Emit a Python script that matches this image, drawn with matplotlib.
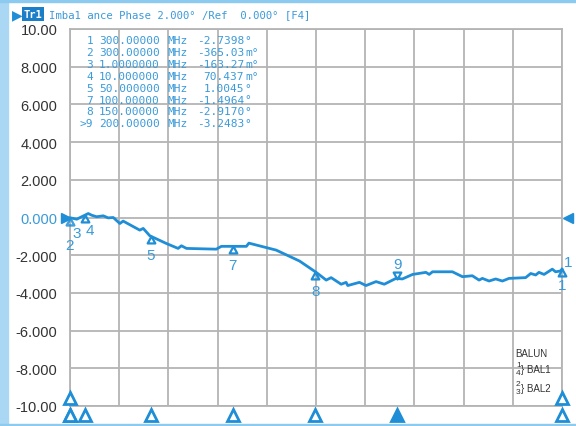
import matplotlib
matplotlib.use('Agg')
import matplotlib.pyplot as plt
import matplotlib.patches as mpatches
from matplotlib.path import Path
import numpy as np

# trace: balance phase imbalance (deg) vs frequency (MHz)
freq_mhz = [1.0, 1.4, 5.1, 8.1, 12.1, 14.2, 17.2, 21.2, 24.2, 27.3, 31.3, 33.3,
            43.4, 45.5, 49.5, 59.6, 66.7, 68.7, 71.8, 89.9, 93.0, 108.2, 109.7,
            126.3, 140.5, 150.6, 156.7, 159.7, 165.8, 168.8, 169.8, 176.9, 180.9,
            187.0, 192.0, 199.1, 203.0, 209.2, 217.3, 219.3, 221.3, 233.4, 239.5,
            245.5, 249.6, 251.6, 255.7, 259.7, 263.8, 267.8, 277.9, 281.0, 284.0,
            286.0, 289.1, 294.1, 296.1, 299.0, 300.0]
phase_deg = [-0.02, -0.02, -0.09, 0.04, 0.21, 0.12, 0.04, 0.09, -0.02, 0.0, -0.32,
             -0.19, -0.67, -0.58, -0.97, -1.38, -1.64, -1.50, -1.64, -1.68, -1.53,
             -1.53, -1.36, -1.73, -2.31, -2.91, -3.32, -3.19, -3.54, -3.44, -3.61,
             -3.44, -3.61, -3.40, -3.54, -3.23, -3.26, -3.02, -2.91, -3.02, -2.88,
             -2.88, -3.14, -3.09, -3.32, -3.23, -3.37, -3.26, -3.37, -3.23, -3.19,
             -2.97, -3.05, -2.91, -3.02, -2.74, -2.88, -2.84, -2.74]

# markers
mk_ids = ['1', '2', '3', '4', '5', '7', '8', '9']
mk_freq = [300.0, 1.0, 1.0, 10.0, 50.0, 100.0, 150.0, 200.0]
mk_text = ['-2.7398\u00b0', '-365.03 m\u00b0', '-163.27 m\u00b0', '70.437 m\u00b0',
           '1.0045\u00b0', '-1.4964\u00b0', '-2.9170\u00b0', '-3.2483\u00b0']
mk_freq_text = ['300.00000', '300.00000', '1.0000000', '10.000000', '50.000000',
                '100.00000', '150.00000', '200.00000']
active = '9'

y_ticks = [10, 8, 6, 4, 2, 0, -2, -4, -6, -8, -10]
y_ticklabels = ['10.00', '8.000', '6.000', '4.000', '2.000', '0.000', '-2.000',
                '-4.000', '-6.000', '-8.000', '-10.00']

BLUE = '#1f8ed6'
LBLUE = '#3a9ad9'
GRID = '#b4b4b4'
W, H = 576, 427


def fx(px):
    return px / W


def fy(py):
    return 1 - py / H


up_tri = Path([(0, 0), (-0.55, -1), (0.55, -1), (0, 0)],
              [Path.MOVETO, Path.LINETO, Path.LINETO, Path.CLOSEPOLY])
down_tri = Path([(0, 0), (-0.55, 1), (0.55, 1), (0, 0)],
                [Path.MOVETO, Path.LINETO, Path.LINETO, Path.CLOSEPOLY])

fig = plt.figure(figsize=(W / 100, H / 100), dpi=100)
fig.patch.set_facecolor('white')

# instrument frame
fig.patches.append(mpatches.Rectangle((0, 0), fx(8), 1, transform=fig.transFigure,
                                      color='#aad7f4', zorder=0))
fig.patches.append(mpatches.Rectangle((0, fy(3)), 1, 3 / H, transform=fig.transFigure,
                                      color='#8ccaf0', zorder=0))
fig.patches.append(mpatches.Rectangle((0, 0), 1, 2.5 / H, transform=fig.transFigure,
                                      color='#8ccaf0', zorder=0))

ax = fig.add_axes([fx(70), fy(407), fx(562) - fx(70), (407 - 30) / H])
ax.set_xlim(1, 300)
ax.set_ylim(-10, 10)
ax.set_xticks(np.linspace(1, 300, 11))
ax.set_yticks(y_ticks)
ax.set_yticklabels(y_ticklabels, fontsize=10.5, family='Liberation Sans', color='#333333')
for lab, v in zip(ax.get_yticklabels(), y_ticks):
    if v == 0:
        lab.set_color(LBLUE)
ax.tick_params(axis='y', length=0, pad=9)
ax.tick_params(axis='x', length=0, labelbottom=False)
ax.grid(True, color=GRID, linewidth=1.3)
for s in ax.spines.values():
    s.set_color(GRID)
    s.set_linewidth(1.3)

ax.plot(freq_mhz, phase_deg, color=BLUE, linewidth=2.0, zorder=3, clip_on=False)

# reference level arrows
ax.plot([1], [0], marker='>', color=BLUE, markersize=7, clip_on=False, zorder=4,
        transform=ax.transData + matplotlib.transforms.ScaledTranslation(-4 / 100, 0, fig.dpi_scale_trans))
ax.plot([300], [0], marker='<', color=BLUE, markersize=7, clip_on=False, zorder=4,
        transform=ax.transData + matplotlib.transforms.ScaledTranslation(6 / 100, 0, fig.dpi_scale_trans))

# trace markers
label_off = {'1': (0, -16), '2': (-1, -27), '3': (7, -15), '4': (5, -15), '5': (0, -19),
             '7': (0, -19), '8': (0, -19), '9': (0, 15)}
for mid, f in zip(mk_ids, mk_freq):
    v = np.interp(f, freq_mhz, phase_deg)
    if mid == active:
        ax.plot([f], [v], marker=down_tri, markersize=10, markerfacecolor='none',
                markeredgecolor=BLUE, markeredgewidth=1.6, clip_on=False, zorder=5)
    else:
        ax.plot([f], [v], marker=up_tri, markersize=10, markerfacecolor='none',
                markeredgecolor=BLUE, markeredgewidth=1.6, clip_on=False, zorder=5,
                alpha=0.6 if mid in ('2', '3') else 1)
    dx, dy = label_off[mid]
    ax.annotate(mid, (f, v), xytext=(dx, dy), textcoords='offset pixels',
                ha='center', va='center', fontsize=11, color=LBLUE,
                family='Liberation Sans', annotation_clip=False)
ax.annotate('1', (300, np.interp(300, freq_mhz, phase_deg)), xytext=(6, 7),
            textcoords='offset pixels', ha='center', va='center', fontsize=11,
            color=LBLUE, family='Liberation Sans', annotation_clip=False)

# marker positions below the grid
btm = ax.get_xaxis_transform()
for mid, f in zip(mk_ids, mk_freq):
    ax.plot([f], [-0.025], marker='^', markersize=8,
            markerfacecolor=BLUE if mid == active else 'white',
            markeredgecolor=BLUE, markeredgewidth=2, transform=btm, clip_on=False, zorder=5)
for f in (1, 300):
    ax.plot([f], [0.02], marker='^', markersize=8, markerfacecolor='white',
            markeredgecolor=BLUE, markeredgewidth=2, transform=btm, clip_on=False, zorder=5)

# marker table
for i, mid in enumerate(mk_ids):
    y = fy(41 + i * 11.9)
    kw = dict(fontsize=8, family='DejaVu Sans Mono', color=LBLUE, va='center')
    fig.text(fx(93), y, ('>' if mid == active else '') + mid, ha='right', **kw)
    fig.text(fx(99), y, mk_freq_text[i], ha='left', **kw)
    fig.text(fx(167), y, 'MHz', ha='left', **kw)
    val = mk_text[i]
    if val.endswith('m\u00b0'):
        fig.text(fx(244), y, val[:-3], ha='right', **kw)
        fig.text(fx(245), y, 'm\u00b0', ha='left', **kw)
    else:
        fig.text(fx(244), y, val[:-1], ha='right', **kw)
        fig.text(fx(244), y, '\u00b0', ha='left', **kw)

# header
fig.text(fx(12), fy(15), '\u25b6', fontsize=10, color=BLUE, va='center', ha='left',
         family='DejaVu Sans')
fig.text(fx(24), fy(15), 'Tr1', fontsize=7.5, color='white', va='center', ha='left',
         family='DejaVu Sans Mono', weight='bold',
         bbox=dict(boxstyle='square,pad=0.15', facecolor='#1a7fc8', edgecolor='none'))
fig.text(fx(49), fy(15), 'Imba1 ance Phase 2.000\u00b0 /Ref  0.000\u00b0 [F4]',
         fontsize=7.7, color=LBLUE, va='center', ha='left', family='DejaVu Sans Mono')

# balun legend
lk = dict(fontsize=7, color='#333333', family='Liberation Sans', va='center')
fig.text(fx(515), fy(354), 'BALUN', ha='left', **lk)
fig.text(fx(516), fy(366), '1', ha='left', fontsize=6, color='#333333', family='Liberation Sans', va='center')
fig.text(fx(516), fy(374), '4', ha='left', fontsize=6, color='#333333', family='Liberation Sans', va='center')
fig.text(fx(521), fy(370), '} BAL1', ha='left', **lk)
fig.text(fx(516), fy(385), '2', ha='left', fontsize=6, color='#333333', family='Liberation Sans', va='center')
fig.text(fx(516), fy(393), '3', ha='left', fontsize=6, color='#333333', family='Liberation Sans', va='center')
fig.text(fx(521), fy(389), '} BAL2', ha='left', **lk)

fig.savefig('out.png', dpi=100, facecolor='white')
